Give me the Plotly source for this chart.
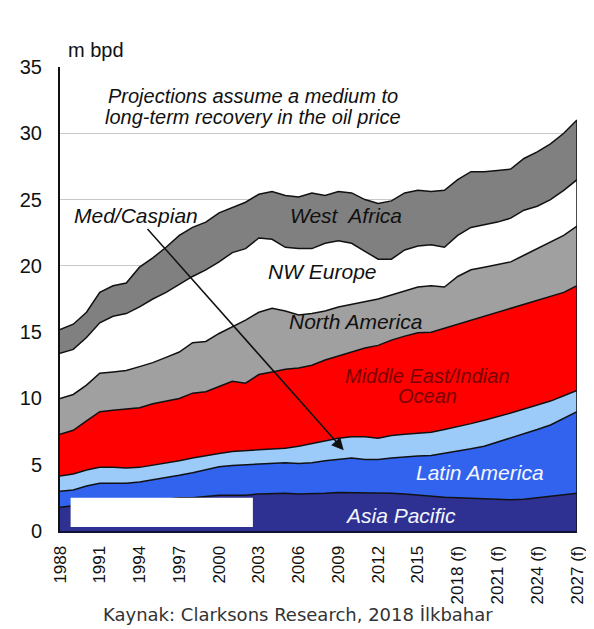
import plotly.graph_objects as go

years = list(range(1988, 2028))

asia_pacific = [1.8, 1.9, 2.1, 2.2, 2.2, 2.3, 2.3, 2.4, 2.4, 2.5, 2.5, 2.6, 2.7, 2.7, 2.7, 2.8, 2.85, 2.85, 2.8, 2.8,
                2.85, 2.9, 2.9, 2.85, 2.85, 2.85, 2.8, 2.7, 2.6, 2.55, 2.5, 2.45, 2.4, 2.35, 2.35, 2.4, 2.5, 2.6, 2.7, 2.85]
latin_america = [1.2, 1.2, 1.3, 1.4, 1.4, 1.3, 1.4, 1.45, 1.6, 1.7, 1.9, 2.0, 2.15, 2.25, 2.3, 2.2, 2.25, 2.3, 2.3, 2.35,
                 2.45, 2.5, 2.6, 2.55, 2.55, 2.65, 2.8, 2.95, 3.1, 3.3, 3.5, 3.75, 4.0, 4.35, 4.65, 4.9, 5.15, 5.4, 5.8, 6.15]
med_caspian = [1.15, 1.2, 1.2, 1.2, 1.2, 1.15, 1.1, 1.1, 1.1, 1.1, 1.1, 1.1, 1.0, 1.05, 1.05, 1.1, 1.05, 1.1, 1.3, 1.45,
               1.5, 1.6, 1.6, 1.7, 1.6, 1.7, 1.7, 1.7, 1.75, 1.8, 1.85, 1.9, 1.95, 1.9, 1.9, 1.9, 1.85, 1.8, 1.7, 1.6]
middle_east = [3.15, 3.3, 3.7, 4.2, 4.3, 4.45, 4.5, 4.65, 4.7, 4.7, 4.9, 4.8, 5.05, 5.3, 5.1, 5.7, 5.85, 5.95, 5.9, 5.9,
               6.1, 6.2, 6.4, 6.7, 7.0, 7.2, 7.4, 7.6, 7.55, 7.65, 7.75, 7.8, 7.85, 7.9, 7.9, 7.9, 7.9, 7.9, 7.8, 7.9]
north_america = [2.7, 2.7, 2.7, 2.9, 2.9, 2.9, 3.1, 3.1, 3.3, 3.5, 3.8, 3.8, 4.0, 4.1, 4.75, 4.7, 4.8, 4.4, 4.0, 3.9,
                 3.7, 3.7, 3.6, 3.5, 3.5, 3.4, 3.4, 3.45, 3.5, 3.1, 3.6, 3.8, 3.7, 3.6, 3.5, 3.7, 3.9, 4.1, 4.3, 4.5]
nw_europe = [3.4, 3.4, 3.6, 3.8, 4.2, 4.3, 4.5, 4.8, 4.9, 5.1, 5.0, 5.4, 5.4, 5.6, 5.4, 5.6, 5.2, 4.8, 5.0, 4.9,
             5.1, 5.0, 4.6, 3.8, 3.0, 2.7, 3.1, 3.1, 3.1, 3.0, 3.1, 3.2, 3.2, 3.2, 3.3, 3.4, 3.2, 3.2, 3.4, 3.5]
west_africa = [1.8, 1.9, 1.9, 2.3, 2.3, 2.3, 3.0, 3.1, 3.4, 3.7, 3.7, 3.6, 3.7, 3.4, 3.5, 3.3, 3.6, 3.9, 3.9, 4.2,
               3.6, 3.7, 3.8, 3.9, 4.2, 4.4, 4.3, 4.2, 4.0, 4.3, 4.2, 4.2, 4.0, 3.9, 3.7, 3.9, 4.1, 4.2, 4.3, 4.5]

tick_years = [1988, 1991, 1994, 1997, 2000, 2003, 2006, 2009, 2012, 2015, 2018, 2021, 2024, 2027]
tick_labels = ['1988', '1991', '1994', '1997', '2000', '2003', '2006', '2009', '2012', '2015',
               '2018 (f)', '2021 (f)', '2024 (f)', '2027 (f)']

series = [
    ('Asia Pacific', asia_pacific, '#2e3192'),
    ('Latin America', latin_america, '#3263ee'),
    ('Med/Caspian', med_caspian, '#9ccbfa'),
    ('Middle East/Indian Ocean', middle_east, '#ff0000'),
    ('North America', north_america, '#a0a0a0'),
    ('NW Europe', nw_europe, '#ffffff'),
    ('West Africa', west_africa, '#808080'),
]

FONT = 'Liberation Sans, Arial, sans-serif'

fig = go.Figure()
for name, vals, col in series:
    fig.add_trace(go.Scatter(x=years, y=vals, name=name, mode='lines', stackgroup='one',
                             fillcolor=col, line=dict(color='#111111', width=1.5),
                             hoverinfo='skip'))

# closing edge of the stacked areas at the last year
total_last = sum(s[1][-1] for s in series)
fig.add_trace(go.Scatter(x=[years[-1], years[-1]], y=[0, total_last], mode='lines',
                         line=dict(color='#111111', width=1.5), hoverinfo='skip'))

# white box covering a label in the source image
fig.add_shape(type='rect', x0=1988.8, x1=2002.55, y0=0.3, y1=2.5, xref='x', yref='y',
              fillcolor='white', line=dict(color='white', width=0), layer='above')

def label(text, x, y, color='#111111', size=20):
    fig.add_annotation(x=x, y=y, xref='x', yref='y', text=text, showarrow=False,
                       font=dict(family=FONT, size=size, color=color, style='italic'))

label('Projections assume a medium to', 2002.55, 32.8)
label('long-term recovery in the oil price', 2002.55, 31.25)
label('West  Africa', 2009.6, 23.8, size=21)
label('NW Europe', 2007.8, 19.6, size=21)
label('North America', 2010.3, 15.8, size=21)
label('Middle East/Indian', 2015.7, 11.7, color='#7a0000')
label('Ocean', 2015.7, 10.15, color='#7a0000')
label('Latin America', 2019.7, 4.45, color='#f4f7ff', size=21)
label('Asia Pacific', 2013.7, 1.2, color='#f4f7ff', size=21)
label('Med/Caspian', 1993.7, 23.8, size=21)

fig.add_annotation(x=2009.4, y=6.1, ax=1994.5, ay=22.9, xref='x', yref='y', axref='x', ayref='y',
                   text='', showarrow=True, arrowhead=2, arrowsize=1.6, arrowwidth=1.5,
                   arrowcolor='#111111')

fig.add_annotation(x=0.012, y=1.037, xref='paper', yref='paper', text='m bpd', showarrow=False,
                   xanchor='left', yanchor='middle', font=dict(family=FONT, size=20, color='#111111'))

fig.add_annotation(x=0.46, y=-0.18, xref='paper', yref='paper', yanchor='middle',
                   text='Kaynak: Clarksons Research, 2018 İlkbahar', showarrow=False,
                   font=dict(family='DejaVu Sans, sans-serif', size=18, color='#333333'))

fig.update_layout(
    width=594, height=629,
    margin=dict(l=52, r=25, t=59, b=106),
    paper_bgcolor='white', plot_bgcolor='white',
    showlegend=False,
    font=dict(family=FONT, size=18, color='#111111'),
)
fig.update_xaxes(range=[1988, 2027], tickvals=tick_years, ticktext=tick_labels, tickangle=-90,
                 showgrid=False, zeroline=False, showline=True, linecolor='#111133', linewidth=2,
                 ticks='', ticklabelstandoff=6, tickfont=dict(size=17))
fig.update_yaxes(range=[0, 35], dtick=5, showgrid=True, gridcolor='#c8c8c8', gridwidth=1,
                 zeroline=False, showline=True, linecolor='#111111', linewidth=2,
                 ticks='', ticklabelstandoff=12, tickfont=dict(size=20))

fig.write_html('out.html')
